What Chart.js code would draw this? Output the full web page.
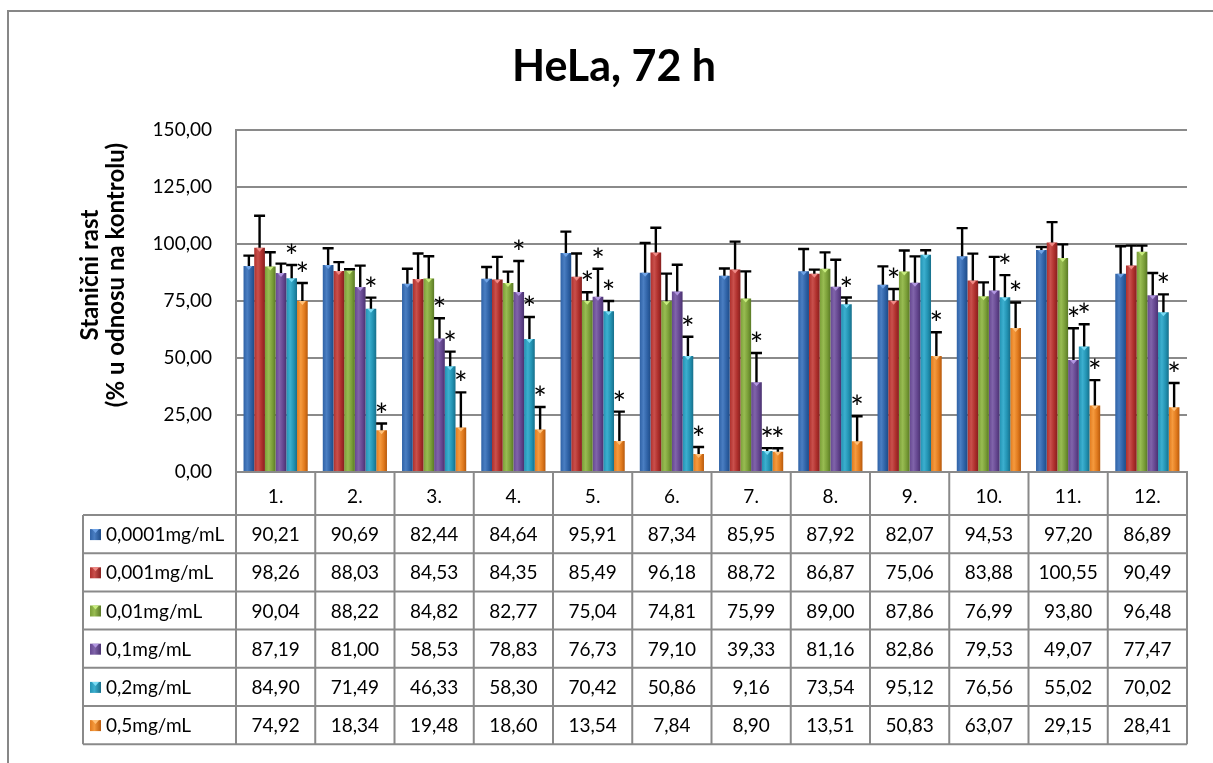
<!DOCTYPE html>
<html>
<head>
<meta charset="utf-8">
<script src="https://cdn.jsdelivr.net/npm/chart.js@4.4.1/dist/chart.umd.min.js"></script>
<style>
html,body{margin:0;padding:0;background:#fff;}
#wrap{width:1213px;height:763px;position:relative;overflow:hidden;}
canvas{display:block;}
</style>
</head>
<body>
<div id="wrap"><canvas id="c" width="1213" height="763"></canvas></div>
<script>
// ---------- data ----------
const categories = ['1.', '2.', '3.', '4.', '5.', '6.', '7.', '8.', '9.', '10.', '11.', '12.'];
const seriesNames = ['0,0001mg/mL', '0,001mg/mL', '0,01mg/mL', '0,1mg/mL', '0,2mg/mL', '0,5mg/mL'];

const conc0001 = [90.21, 90.69, 82.44, 84.64, 95.91, 87.34, 85.95, 87.92, 82.07, 94.53, 97.20, 86.89];
const conc001  = [98.26, 88.03, 84.53, 84.35, 85.49, 96.18, 88.72, 86.87, 75.06, 83.88, 100.55, 90.49];
const conc01   = [90.04, 88.22, 84.82, 82.77, 75.04, 74.81, 75.99, 89.00, 87.86, 76.99, 93.80, 96.48];
const conc1    = [87.19, 81.00, 58.53, 78.83, 76.73, 79.10, 39.33, 81.16, 82.86, 79.53, 49.07, 77.47];
const conc2    = [84.90, 71.49, 46.33, 58.30, 70.42, 50.86, 9.16, 73.54, 95.12, 76.56, 55.02, 70.02];
const conc5    = [74.92, 18.34, 19.48, 18.60, 13.54, 7.84, 8.90, 13.51, 50.83, 63.07, 29.15, 28.41];

// upper error bar lengths
const err0001 = [4.6, 7.3, 6.6, 5.2, 9.4, 13.0, 3.2, 9.8, 8.0, 12.3, 1.4, 12.0];
const err001  = [14.0, 3.9, 11.2, 9.9, 10.2, 10.8, 12.2, 1.8, 5.1, 11.8, 8.9, 8.7];
const err01   = [6.2, 0.6, 9.7, 5.0, 3.7, 12.1, 11.9, 7.2, 9.2, 6.1, 5.9, 2.7];
const err1    = [4.1, 9.4, 8.8, 13.6, 12.3, 11.7, 12.8, 11.8, 11.6, 14.7, 13.9, 9.7];
const err2    = [5.8, 4.9, 6.4, 9.6, 4.5, 8.4, 1.3, 2.9, 2.0, 9.7, 9.7, 7.8];
const err5    = [7.9, 2.9, 15.4, 9.9, 12.9, 3.1, 1.5, 10.9, 10.4, 11.2, 11.1, 10.6];

// significance marks (category indices carrying "*")
const star0001 = [];
const star001  = [8];
const star01   = [4];
const star1    = [2, 3, 4, 6, 10];
const star2    = [0, 1, 2, 3, 4, 5, 6, 7, 9, 10, 11];
const star5    = [0, 1, 2, 3, 4, 5, 6, 7, 8, 9, 10, 11];

const yTicks = [0, 25, 50, 75, 100, 125, 150];
const chartTitle = 'HeLa, 72 h';
const yTitleLines = ['Stanični rast', '(% u odnosu na kontrolu)'];

// ---------- styling ----------
const values = [conc0001, conc001, conc01, conc1, conc2, conc5];
const errors = [err0001, err001, err01, err1, err2, err5];
const stars = [star0001, star001, star01, star1, star2, star5];
const shades = [
  {edge: '#1E4C88', mid: '#2F62A6', light: '#4A7EC2', tip: '#6FA3E6'},
  {edge: '#86201F', mid: '#AE2F2C', light: '#C9504C', tip: '#F08A86'},
  {edge: '#5A7A26', mid: '#7A9E38', light: '#98BC52', tip: '#C8EC7E'},
  {edge: '#4A3270', mid: '#654790', light: '#8064AA', tip: '#B196E0'},
  {edge: '#176F8A', mid: '#2292B2', light: '#3CAFCF', tip: '#7ADCF5'},
  {edge: '#B85A0C', mid: '#E07A1E', light: '#F59A3E', tip: '#FFC078'}
];
const FONT = 'Lato, "Open Sans", sans-serif';
const CAT_PCT = 0.81;
const GRID = '#8a8a8a';

function fmt(v) { return v.toFixed(2).replace('.', ','); }

function barFill(ctx) {
  const s = shades[ctx.datasetIndex];
  if (ctx.type !== 'data' || !ctx.chart.chartArea || !ctx.chart.scales.x) return s.mid;
  const xs = ctx.chart.scales.x;
  const catW = (xs.right - xs.left) / categories.length;
  const groupW = catW * CAT_PCT;
  const bw = groupW / values.length;
  const left = xs.getPixelForValue(ctx.dataIndex) - groupW / 2 + ctx.datasetIndex * bw;
  const g = ctx.chart.ctx.createLinearGradient(left, 0, left + bw, 0);
  g.addColorStop(0, s.mid);
  g.addColorStop(0.35, s.light);
  g.addColorStop(0.7, s.mid);
  g.addColorStop(1, s.edge);
  return g;
}

const datasets = values.map((arr, i) => ({
  label: seriesNames[i],
  data: arr,
  backgroundColor: barFill,
  borderWidth: 0,
  categoryPercentage: CAT_PCT,
  barPercentage: 1.0
}));

// ---------- plugins ----------
const framePlugin = {
  id: 'frame',
  beforeDraw(chart) {
    const c = chart.ctx;
    c.save();
    c.fillStyle = '#ffffff';
    c.fillRect(0, 0, chart.width, chart.height);
    c.strokeStyle = '#878787';
    c.lineWidth = 2;
    c.strokeRect(8, 11, chart.width + 40, chart.height + 40);
    c.restore();
  }
};

const yTitlePlugin = {
  id: 'yTitle',
  afterDraw(chart) {
    const c = chart.ctx;
    c.save();
    c.fillStyle = '#000';
    c.font = 'bold 24px ' + FONT;
    c.textAlign = 'center';
    c.textBaseline = 'middle';
    const cy = 275;
    const xs = [90, 116];
    yTitleLines.forEach((t, i) => {
      c.save();
      c.translate(xs[i], cy);
      c.rotate(-Math.PI / 2);
      c.fillText(t, 0, 0);
      c.restore();
    });
    c.restore();
  }
};

const errorPlugin = {
  id: 'errBars',
  afterDatasetsDraw(chart) {
    const c = chart.ctx;
    const y = chart.scales.y;
    c.save();
    chart.data.datasets.forEach((ds, di) => {
      const meta = chart.getDatasetMeta(di);
      meta.data.forEach((bar, i) => {
        const v = ds.data[i];
        const top = y.getPixelForValue(v);
        // small bevel tip
        c.fillStyle = shades[di].tip;
        c.beginPath();
        c.moveTo(bar.x - 3.5, top);
        c.lineTo(bar.x + 3.5, top);
        c.lineTo(bar.x, top + 4);
        c.closePath();
        c.fill();
        // error bar
        const eTop = y.getPixelForValue(v + errors[di][i]);
        c.strokeStyle = '#000';
        c.lineWidth = 2.4;
        c.beginPath();
        c.moveTo(bar.x, top);
        c.lineTo(bar.x, eTop);
        c.moveTo(bar.x - 5.5, eTop);
        c.lineTo(bar.x + 5.5, eTop);
        c.stroke();
        if (stars[di].includes(i)) {
          c.fillStyle = '#000';
          c.font = '32px ' + FONT;
          c.textAlign = 'center';
          c.textBaseline = 'alphabetic';
          c.fillText('*', bar.x, eTop + 3);
        }
      });
    });
    c.restore();
  }
};

const tablePlugin = {
  id: 'dataTable',
  afterDraw(chart) {
    const c = chart.ctx;
    const xs = chart.scales.x;
    const area = chart.chartArea;
    const catW = (xs.right - xs.left) / categories.length;
    const headerBottom = 515;
    const rowH = 38.2;
    const leftX = 83;
    const bottom = headerBottom + rowH * values.length;
    c.save();
    c.strokeStyle = GRID;
    c.lineWidth = 2;
    c.beginPath();
    for (let k = 0; k <= categories.length; k++) {
      const x = xs.left + k * catW;
      c.moveTo(x, area.bottom);
      c.lineTo(x, bottom);
    }
    c.moveTo(leftX, headerBottom);
    c.lineTo(leftX, bottom);
    for (let r = 0; r <= values.length; r++) {
      const yy = headerBottom + r * rowH;
      c.moveTo(leftX, yy);
      c.lineTo(xs.right, yy);
    }
    c.stroke();

    c.font = '19px ' + FONT;
    c.fillStyle = '#000';
    c.textBaseline = 'middle';
    values.forEach((arr, r) => {
      const cy = headerBottom + (r + 0.5) * rowH + 1;
      // legend key
      const s = shades[r];
      const g = c.createLinearGradient(90, 0, 101, 0);
      g.addColorStop(0, s.mid); g.addColorStop(0.4, s.light); g.addColorStop(1, s.edge);
      c.fillStyle = g;
      c.fillRect(90, cy - 6, 11, 11);
      c.fillStyle = s.tip;
      c.beginPath(); c.moveTo(92, cy - 6); c.lineTo(99, cy - 6); c.lineTo(95.5, cy - 2); c.closePath(); c.fill();
      c.fillStyle = '#000';
      c.textAlign = 'left';
      c.fillText(seriesNames[r], 106, cy);
      c.textAlign = 'center';
      arr.forEach((v, i) => {
        c.fillText(fmt(v), xs.getPixelForValue(i), cy);
      });
    });
    c.restore();
  }
};

Chart.defaults.font.family = FONT;

new Chart(document.getElementById('c'), {
  type: 'bar',
  data: { labels: categories, datasets: datasets },
  options: {
    responsive: false,
    animation: false,
    events: [],
    devicePixelRatio: 1,
    layout: { padding: { left: 41, right: 26, top: 0, bottom: 0 } },
    plugins: {
      legend: { display: false },
      tooltip: { enabled: false },
      title: {
        display: true,
        text: chartTitle,
        color: '#000',
        font: { family: FONT, size: 43, weight: 'bold' },
        padding: { top: 41, bottom: 37 }
      }
    },
    scales: {
      x: {
        grid: { display: false, drawTicks: false },
        border: { display: true, color: GRID, width: 2 },
        ticks: { color: '#000', font: { size: 19, family: FONT }, padding: 13, maxRotation: 0, autoSkip: false },
        afterFit(s) { s.height = 291; }
      },
      y: {
        min: 0, max: 150,
        afterBuildTicks(s) { s.ticks = yTicks.map(v => ({ value: v })); },
        grid: { color: GRID, lineWidth: 2, drawTicks: false },
        border: { display: true, color: GRID, width: 2 },
        ticks: { color: '#000', font: { size: 19, family: FONT }, padding: 24, callback: v => fmt(v) },
        afterFit(s) { s.width = 195; }
      }
    }
  },
  plugins: [framePlugin, errorPlugin, tablePlugin, yTitlePlugin]
});
</script>
</body>
</html>
